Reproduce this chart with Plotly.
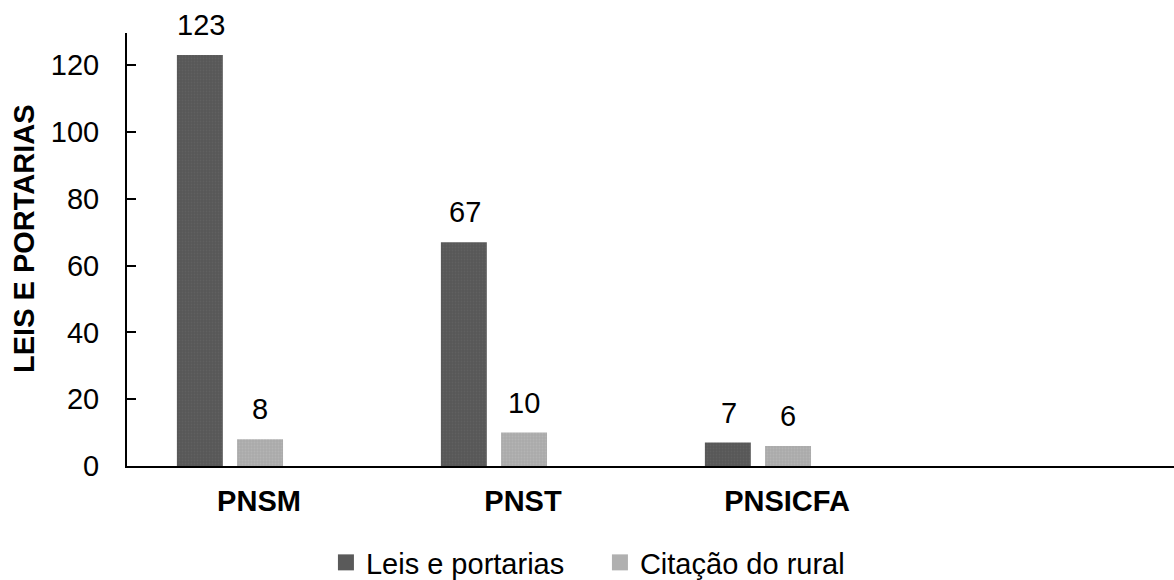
import plotly.graph_objects as go

categories = ["PNSM", "PNST", "PNSICFA"]
leis = [123, 67, 7]
citacao = [8, 10, 6]
series_names = ["Leis e portarias", "Citação do rural"]
y_ticks = [0, 20, 40, 60, 80, 100, 120]
y_title = "LEIS E PORTARIAS"

DARK = "#5a5a5a"
LIGHT = "#b0b0b0"
FONT = "Arial, Liberation Sans, sans-serif"

fig = go.Figure()
fig.add_trace(go.Bar(
    x=categories, y=leis, name=series_names[0], legendgroup="a", showlegend=False,
    marker=dict(color=DARK, line=dict(width=0),
                pattern=dict(shape=".", fgcolor="#6a6a6a", bgcolor="#565656", size=3, solidity=0.35)),
    width=0.174, offset=-0.311,
))
fig.add_trace(go.Bar(
    x=categories, y=citacao, name=series_names[1], legendgroup="b", showlegend=False,
    marker=dict(color=LIGHT, line=dict(width=0),
                pattern=dict(shape=".", fgcolor="#bdbdbd", bgcolor="#aaaaaa", size=3, solidity=0.35)),
    width=0.174, offset=-0.083,
))
# legend entries (square swatches)
fig.add_trace(go.Scatter(x=[None], y=[None], mode="markers", name=series_names[0], legendgroup="a",
                         marker=dict(symbol="square", size=18, color=DARK)))
fig.add_trace(go.Scatter(x=[None], y=[None], mode="markers", name=series_names[1], legendgroup="b",
                         marker=dict(symbol="square", size=18, color=LIGHT)))

annotations = []
for cat, v in zip(categories, leis):
    annotations.append(dict(x=cat, y=v, xref="x", yref="y", text=str(v), showarrow=False,
                            xshift=-58, yshift=30, yanchor="middle",
                            font=dict(size=29, family=FONT, color="#000000")))
for cat, v in zip(categories, citacao):
    annotations.append(dict(x=cat, y=v, xref="x", yref="y", text=str(v), showarrow=False,
                            xshift=1, yshift=30, yanchor="middle",
                            font=dict(size=29, family=FONT, color="#000000")))
# y-axis title
annotations.append(dict(x=-0.0984, y=0.5266, xref="paper", yref="paper", text="<b>" + y_title + "</b>",
                        textangle=-90, showarrow=False, xanchor="center", yanchor="middle",
                        font=dict(size=29, family=FONT, color="#000000")))

fig.update_layout(
    width=1174, height=580,
    margin=dict(l=127, r=0, t=33, b=114, autoexpand=False),
    plot_bgcolor="white", paper_bgcolor="white",
    font=dict(family=FONT, color="#000000"),
    barmode="overlay",
    annotations=annotations,
    legend=dict(orientation="h", x=0.19, xanchor="left", xref="paper",
                y=-0.164, yanchor="top", font=dict(size=29, family=FONT),
                itemwidth=30, entrywidth=229, traceorder="normal"),
    xaxis=dict(
        type="category", range=[-0.5, 3.466],
        showline=True, linecolor="#000000", linewidth=2,
        ticks="", tickfont=dict(size=29, family=FONT, weight="bold"),
        ticklabelstandoff=8, showgrid=False, zeroline=False,
    ),
    yaxis=dict(
        range=[0, 129.6], tickvals=y_ticks,
        showline=True, linecolor="#000000", linewidth=2,
        ticks="inside", ticklen=9, tickwidth=2, tickcolor="#000000",
        tickfont=dict(size=29, family=FONT),
        ticklabelstandoff=20, showgrid=False, zeroline=False,
    ),
)

fig.write_html("out.html", config={"displayModeBar": False},
               post_script="document.body.style.margin='0';document.body.style.padding='0';")
